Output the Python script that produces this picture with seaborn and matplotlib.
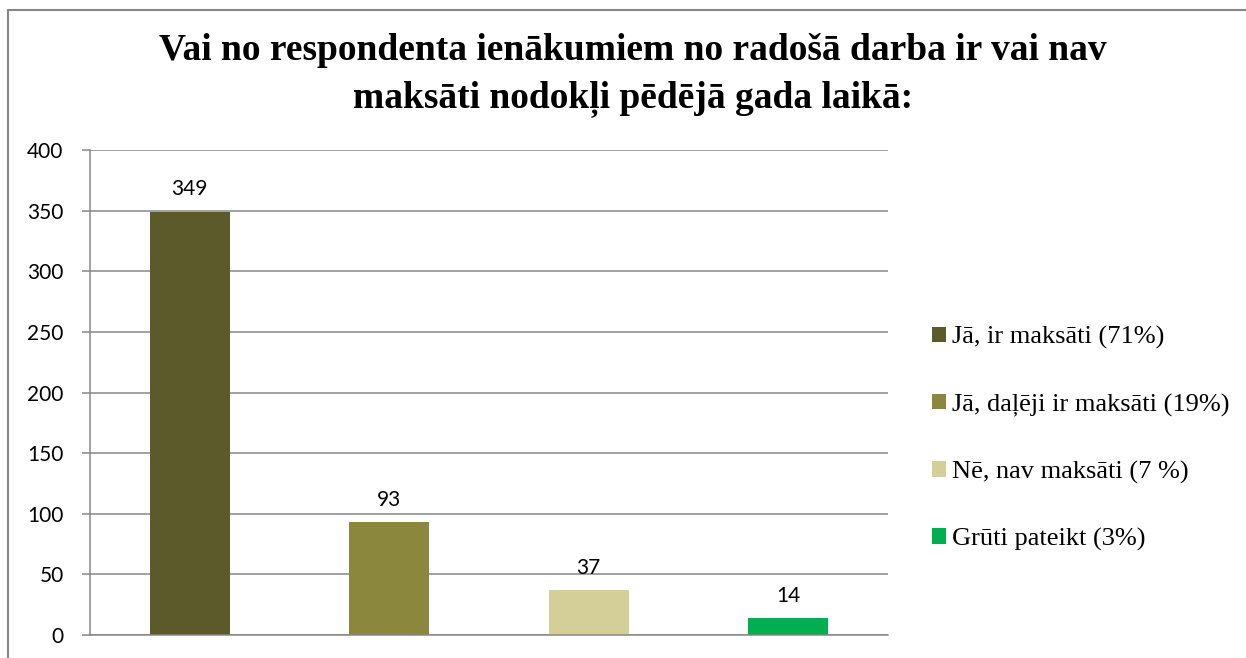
import matplotlib
matplotlib.use("Agg")
import matplotlib.pyplot as plt
import seaborn as sns
from matplotlib.lines import Line2D

# data
categories = ["Jā, ir maksāti (71%)", "Jā, daļēji ir maksāti (19%)",
              "Nē, nav maksāti (7 %)", "Grūti pateikt (3%)"]
values = [349, 93, 37, 14]
colors = ["#5C5A2A", "#8B883E", "#D4CF98", "#00B050"]
yticks = [0, 50, 100, 150, 200, 250, 300, 350, 400]
title = "Vai no respondenta ienākumiem no radošā darba ir vai nav\nmaksāti nodokļi pēdējā gada laikā:"

sns.set_style("white")
plt.rcParams['font.family'] = ['Lato', 'DejaVu Sans']

fig = plt.figure(figsize=(12.46, 6.58), dpi=100)
ax = fig.add_axes([90/1246, 1-635/658, (888-90)/1246, (635-150)/658])

sns.barplot(x=categories, y=values, hue=categories, palette=colors,
            width=0.4, dodge=False, legend=False, ax=ax, saturation=1,
            linewidth=0)

ax.set_ylim(0, 400)
ax.set_yticks(yticks)
ax.set_xticks([])
ax.set_xlim(-0.5, 3.5)
ax.yaxis.grid(True, color="#878787", lw=1.1)
ax.set_axisbelow(True)
for s in ["top", "right"]:
    ax.spines[s].set_visible(False)
for s in ["left", "bottom"]:
    ax.spines[s].set_color("#878787")
    ax.spines[s].set_linewidth(1.1)
ax.tick_params(axis="y", left=True, length=6, width=1.1, color="#878787",
               labelsize=15, labelcolor="black", pad=13)

for c in ax.containers:
    ax.bar_label(c, fontsize=15, padding=9, color="black")

ax.legend(ax.containers, categories, loc="center left",
          bbox_to_anchor=(932/1246, 1-438.5/658), bbox_transform=fig.transFigure,
          frameon=False, borderpad=0, borderaxespad=0,
          prop={"family": "Liberation Serif", "size": 19},
          handlelength=0.53, handleheight=0.53, handletextpad=0.23,
          labelspacing=1.67, labelcolor="black")

fig.text(633/1246, 1-75/658, title, ha="center", va="center", color="black",
         family="Liberation Serif", weight="bold", fontsize=27, linespacing=1.42)

# outer chart frame (cropped at right and bottom)
fig.add_artist(Line2D([8/1246, 8/1246], [0, 1-10/658], transform=fig.transFigure,
                      color="#868686", lw=1.5))
fig.add_artist(Line2D([8/1246, 1], [1-10/658, 1-10/658], transform=fig.transFigure,
                      color="#868686", lw=1.5))

fig.savefig("out.png", dpi=100)
